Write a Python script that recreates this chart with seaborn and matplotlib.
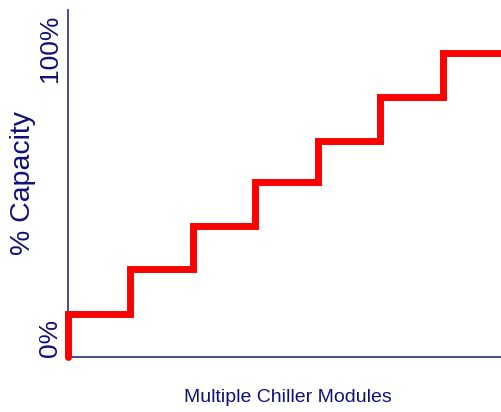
import pandas as pd
import matplotlib.pyplot as plt
import seaborn as sns

# Capacity reached as each chiller module comes on line
modules = [0, 0, 1, 2, 3, 4, 5, 6, 7]
capacity = [0, 14, 29, 43, 57.5, 71, 85.5, 100, 100]

df = pd.DataFrame({'modules': modules, 'capacity': capacity})

sns.set_style('white')
plt.rcParams['font.family'] = ['Liberation Sans', 'DejaVu Sans']

navy = '#10107a'
spine_col = '#3a3a98'

fig = plt.figure(figsize=(5.02, 4.12), dpi=100)
ax = fig.add_axes([68 / 502, 55 / 412, 1 - 68 / 502, 347 / 412])

ax.plot(df['modules'], df['capacity'], drawstyle='steps-post', color='#ff0000',
        lw=5, solid_capstyle='round', solid_joinstyle='miter', clip_on=False, zorder=5)

ax.set_xlim(0, 6.95)
ax.set_ylim(0, 114)

for side in ['top', 'right']:
    ax.spines[side].set_visible(False)
for side in ['left', 'bottom']:
    ax.spines[side].set_color(spine_col)
    ax.spines[side].set_linewidth(1.3)

ax.set_xticks([])
ax.set_yticks([])

# rotated capacity markers on the left
ax.text(-0.1, 0, '0%', rotation=90, ha='right', va='bottom', fontsize=19,
        color=navy, clip_on=False)
ax.text(-0.1, 112.5, '100%', rotation=90, ha='right', va='top', fontsize=19,
        color=navy, clip_on=False)

fig.text(23 / 502, 1 - 183 / 412, '% Capacity', rotation=90, ha='center', va='center',
         fontsize=20.5, color=navy)
fig.text(288 / 502, 1 - 398 / 412, 'Multiple Chiller Modules', ha='center', va='center',
         fontsize=14, color=navy, family=['Liberation Sans Narrow', 'Liberation Sans'])

fig.savefig('out.png', dpi=100)
